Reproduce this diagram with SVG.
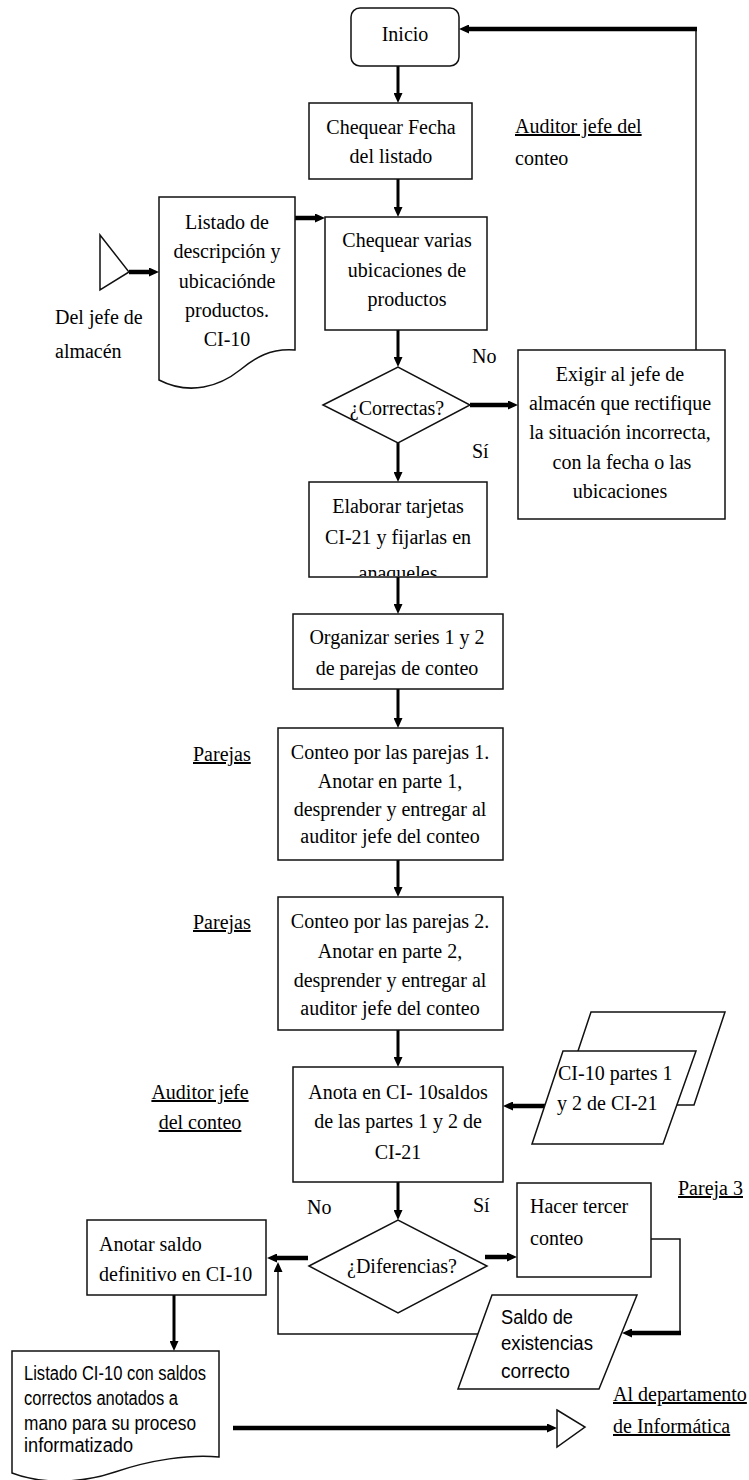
<svg xmlns="http://www.w3.org/2000/svg" width="749" height="1480" viewBox="0 0 749 1480">
<style>
.sh{fill:#fff;stroke:#111;stroke-width:1.5}
.ln{fill:none;stroke:#000;stroke-width:3}
.tk{fill:none;stroke:#000;stroke-width:4.5}
.th{fill:none;stroke:#111;stroke-width:1.5}
.t{font-family:"Liberation Serif","Times New Roman",serif;font-size:20px;fill:#000}
.c{text-anchor:middle}
.s{font-family:"Liberation Sans",Arial,sans-serif;font-size:20px;fill:#000}
.u{text-decoration:underline}
</style>
<defs>
<marker id="ah" viewBox="0 0 10 9" refX="4" refY="4.5" markerWidth="10" markerHeight="9" markerUnits="userSpaceOnUse" orient="auto">
<path d="M0,0 L10,4.5 L0,9 Z" fill="#000"/>
</marker>
<clipPath id="clipElab"><rect x="309" y="482" width="178" height="94"/></clipPath>
</defs>
<rect width="749" height="1480" fill="#fff"/>

<g id="connectors">
<line class="ln" x1="398" y1="66" x2="398" y2="97" marker-end="url(#ah)"/>
<line class="ln" x1="398" y1="179" x2="398" y2="211" marker-end="url(#ah)"/>
<line class="tk" x1="129" y1="272" x2="153" y2="272" marker-end="url(#ah)"/>
<line class="tk" x1="295" y1="218" x2="319" y2="218" marker-end="url(#ah)"/>
<line class="ln" x1="398" y1="330" x2="398" y2="361" marker-end="url(#ah)"/>
<line class="tk" x1="470" y1="405" x2="512" y2="405" marker-end="url(#ah)"/>
<polyline class="th" points="696,350 696,29"/>
<line class="tk" x1="697" y1="29" x2="465" y2="29" marker-end="url(#ah)"/>
<line class="ln" x1="398" y1="443" x2="398" y2="476" marker-end="url(#ah)"/>
<line class="ln" x1="398" y1="577" x2="398" y2="608" marker-end="url(#ah)"/>
<line class="ln" x1="398" y1="689" x2="398" y2="722" marker-end="url(#ah)"/>
<line class="ln" x1="398" y1="860" x2="398" y2="891" marker-end="url(#ah)"/>
<line class="ln" x1="398" y1="1030" x2="398" y2="1061" marker-end="url(#ah)"/>
<line class="tk" x1="545" y1="1106" x2="509" y2="1106" marker-end="url(#ah)"/>
<line class="ln" x1="398" y1="1182" x2="398" y2="1214" marker-end="url(#ah)"/>
<line class="tk" x1="485" y1="1257" x2="511" y2="1257" marker-end="url(#ah)"/>
<line class="tk" x1="308" y1="1258" x2="273" y2="1258" marker-end="url(#ah)"/>
<polyline class="th" points="651,1239 680,1239 680,1333"/>
<line class="tk" x1="681" y1="1333" x2="628" y2="1333" marker-end="url(#ah)"/>
<polyline class="th" points="478,1334 278,1334 278,1268" marker-end="url(#ah)"/>
<line class="ln" x1="174" y1="1295" x2="174" y2="1345" marker-end="url(#ah)"/>
<line class="tk" x1="233" y1="1428" x2="551" y2="1428" marker-end="url(#ah)"/>
</g>

<g id="inicio">
<rect class="sh" x="351" y="8" width="108" height="58" rx="9"/>
<text class="t c" x="405" y="41">Inicio</text>
</g>

<g id="chequear-fecha">
<rect class="sh" x="309" y="103" width="163" height="76"/>
<text class="t c" x="391" y="134">Chequear Fecha</text>
<text class="t c" x="391" y="163">del listado</text>
</g>

<g id="label-auditor-top">
<text class="t u" x="515" y="133">Auditor jefe del</text>
<text class="t" x="515" y="165">conteo</text>
</g>

<g id="del-jefe">
<polygon class="sh" points="100,235 129,272 100,290"/>
<text class="t" x="55" y="324">Del jefe de</text>
<text class="t" x="55" y="358">almacén</text>
</g>

<g id="listado-doc">
<path class="sh" d="M159,197 H295 V350 C270,348 255,358 240,370 C220,386 190,396 159,380 Z"/>
<text class="t c" x="227" y="229">Listado de</text>
<text class="t c" x="227" y="258">descripción y</text>
<text class="t c" x="227" y="288">ubicaciónde</text>
<text class="t c" x="227" y="317">productos.</text>
<text class="t c" x="227" y="346">CI-10</text>
</g>

<g id="chequear-varias">
<rect class="sh" x="325" y="217" width="162" height="113"/>
<text class="t c" x="407" y="247">Chequear varias</text>
<text class="t c" x="407" y="277">ubicaciones de</text>
<text class="t c" x="407" y="306">productos</text>
</g>

<g id="correctas">
<polygon class="sh" points="323,405 398,367 470,405 398,443"/>
<text class="t c" x="397" y="415">¿Correctas?</text>
<text class="t" x="472" y="363">No</text>
<text class="t" x="472" y="458">Sí</text>
</g>

<g id="exigir">
<rect class="sh" x="518" y="350" width="207" height="169"/>
<text class="t c" x="620" y="381">Exigir al jefe de</text>
<text class="t c" x="620" y="410">almacén que rectifique</text>
<text class="t c" x="620" y="439">la situación incorrecta,</text>
<text class="t c" x="622" y="469">con la fecha o las</text>
<text class="t c" x="620" y="498">ubicaciones</text>
</g>

<g id="elaborar">
<rect class="sh" x="309" y="482" width="178" height="95"/>
<text class="t c" x="398" y="513">Elaborar tarjetas</text>
<text class="t c" x="398" y="544">CI-21 y fijarlas en</text>
<text class="t c" x="398" y="580" clip-path="url(#clipElab)">anaqueles</text>
</g>

<g id="organizar">
<rect class="sh" x="293" y="614" width="210" height="75"/>
<text class="t c" x="397" y="644">Organizar series 1 y 2</text>
<text class="t c" x="397" y="675">de parejas de conteo</text>
</g>

<g id="conteo1">
<rect class="sh" x="278" y="728" width="225" height="132"/>
<text class="t c" x="390" y="759">Conteo por las parejas 1.</text>
<text class="t c" x="390" y="788">Anotar en parte 1,</text>
<text class="t c" x="390" y="816">desprender y entregar al</text>
<text class="t c" x="390" y="843">auditor jefe del conteo</text>
<text class="t u" x="193" y="761">Parejas</text>
</g>

<g id="conteo2">
<rect class="sh" x="278" y="897" width="225" height="133"/>
<text class="t c" x="390" y="928">Conteo por las parejas 2.</text>
<text class="t c" x="390" y="958">Anotar en parte 2,</text>
<text class="t c" x="390" y="987">desprender y entregar al</text>
<text class="t c" x="390" y="1015">auditor jefe del conteo</text>
<text class="t u" x="193" y="929">Parejas</text>
</g>

<g id="anota">
<rect class="sh" x="293" y="1067" width="210" height="115"/>
<text class="t c" x="398" y="1099">Anota en CI- 10saldos</text>
<text class="t c" x="398" y="1128">de las partes 1 y 2 de</text>
<text class="t c" x="398" y="1159">CI-21</text>
<text class="t c u" x="200" y="1099">Auditor jefe</text>
<text class="t c u" x="200" y="1129">del conteo</text>
</g>

<g id="ci10-stack">
<polygon class="sh" points="591,1012 725,1012 694,1105 560,1105"/>
<polygon class="sh" points="563,1051 696,1051 663,1144 532,1144"/>
<text class="t" x="558" y="1080">CI-10 partes 1</text>
<text class="t" x="557" y="1110">y 2 de CI-21</text>
</g>

<g id="diferencias">
<polygon class="sh" points="309,1266 398,1220 487,1266 398,1313"/>
<text class="t c" x="402" y="1273">¿Diferencias?</text>
<text class="t" x="307" y="1214">No</text>
<text class="t" x="473" y="1212">Sí</text>
</g>

<g id="hacer">
<rect class="sh" x="517" y="1183" width="134" height="94"/>
<text class="t" x="530" y="1213">Hacer tercer</text>
<text class="t" x="530" y="1245">conteo</text>
<text class="t u" x="678" y="1195">Pareja 3</text>
</g>

<g id="saldo">
<polygon class="sh" points="492,1295 637,1295 599,1389 458,1389"/>
<text class="s" x="501" y="1324" textLength="72" lengthAdjust="spacingAndGlyphs">Saldo de</text>
<text class="s" x="501" y="1350" textLength="92" lengthAdjust="spacingAndGlyphs">existencias</text>
<text class="s" x="501" y="1378" textLength="69" lengthAdjust="spacingAndGlyphs">correcto</text>
</g>

<g id="anotar">
<rect class="sh" x="87" y="1220" width="179" height="75"/>
<text class="t" x="99" y="1251">Anotar saldo</text>
<text class="t" x="99" y="1281">definitivo en CI-10</text>
</g>

<g id="listado-final">
<path class="sh" d="M12,1351 H219 V1457 C190,1454 150,1460 115,1472 C80,1484 40,1484 12,1473 Z"/>
<text class="s" x="24" y="1380" textLength="182" lengthAdjust="spacingAndGlyphs">Listado CI-10 con saldos</text>
<text class="s" x="24" y="1405" textLength="154" lengthAdjust="spacingAndGlyphs">correctos anotados a</text>
<text class="s" x="24" y="1430" textLength="172" lengthAdjust="spacingAndGlyphs">mano para su proceso</text>
<text class="s" x="24" y="1452" textLength="109" lengthAdjust="spacingAndGlyphs">informatizado</text>
</g>

<g id="al-departamento">
<polygon class="sh" points="557,1410 585,1427 557,1447"/>
<text class="t u" x="613" y="1401">Al departamento</text>
<text class="t u" x="613" y="1433">de Informática</text>
</g>
</svg>
